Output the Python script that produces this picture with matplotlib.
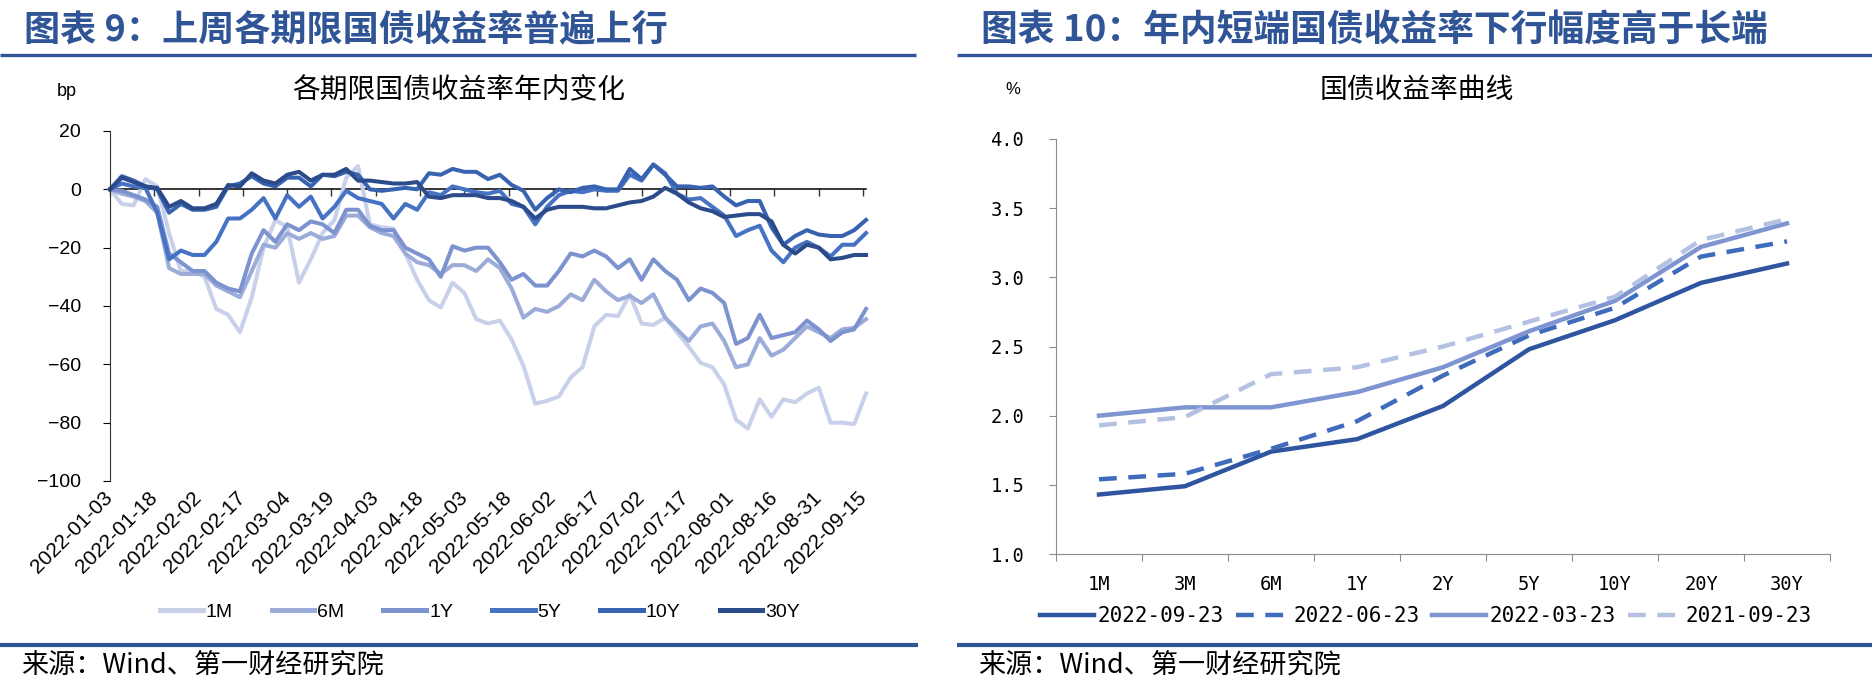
import numpy as np
import pandas as pd
import matplotlib
matplotlib.use("Agg")
import matplotlib.pyplot as plt
import matplotlib.dates as mdates
from matplotlib.lines import Line2D

W, H, DPI = 1872, 685, 100
CJK = ["Noto Sans CJK SC", "DejaVu Sans"]
LAT = ["Liberation Sans", "DejaVu Sans"]
MONO = ["DejaVu Sans Mono"]
BLUE = "#2f5597"

# ---- left: change since 2022-01-03 (bp), read every 4 days ----
DATES = pd.date_range("2022-01-03", "2022-09-16", freq="4D")
TICK_DATES = pd.date_range("2022-01-03", "2022-09-15", freq="15D")
Y1M = [0, -5, -5.5, 3.5, 1, -15, -28, -28, -30, -41, -43, -49, -37, -20, -10.5, -13,
       -32, -24, -15, -10.5, 4, 8, -12, -13, -13.5, -22, -31, -38, -40.5, -32, -35.5,
       -44.5, -46, -45, -51.5, -60.5, -73.5, -72.5, -71, -64.5, -61, -47, -43, -43.5,
       -36, -46, -46.5, -44, -49, -54, -59.5, -61, -67, -79, -82, -72, -78, -72, -73,
       -70, -68, -80, -80, -80.5, -70]
Y6M = [0, -1.5, -2.5, -4, -8, -27, -29, -29, -29, -33, -35, -37, -28, -19, -20, -15,
       -17, -15, -17, -16, -9, -9, -13, -15, -16, -22, -25, -26, -29, -26, -26, -28,
       -24, -27, -34, -44, -41, -42, -40, -36, -38, -31, -35, -38, -36.5, -39, -36,
       -44, -48, -52, -47, -46, -52, -61, -60, -51, -57, -55, -51, -47, -49, -51, -48,
       -47.5, -44.5]
Y1Y = [0, -0.5, -2, -3.5, -6, -22, -25, -28, -28, -32, -34, -35, -22, -14, -18, -12,
       -14, -11, -12, -15, -7, -7, -12.5, -14, -14, -20, -22, -24, -30, -19.5, -21, -20,
       -20, -25, -31, -29, -33, -33, -28, -22, -23, -21, -23, -27, -24, -31, -24, -28,
       -31, -38, -34, -35.5, -39, -53, -51, -43, -51, -50, -49, -45, -48, -52, -49, -48,
       -41]
Y5Y = [0, 2, 1, 0.5, -8, -24, -21, -22.5, -22.5, -18, -10, -10, -7, -3, -10, -2, -6,
       -2.5, -10, -6, -0.5, -3, -4, -5, -10, -5, -7, -1, -2, 1, 0, -1, -1.5, -0.5, -5,
       -6, -12, -6, -2, -0.5, -1, 0, -0.5, -0.5, 5, 3, 8.5, 5.5, -1.5, -3.5, -3, -6, -9,
       -16, -14, -12.5, -21, -25, -20, -18, -20, -23, -19, -19, -15]
Y10Y = [0, 4.5, 3, 1, 0, -8, -5, -7, -7, -6, 1, 2, 4.5, 2, 1, 4, 4, 1, 5, 4.5, 6, 5, 0,
        -0.5, 0, 0.5, 0, 5.5, 5, 7, 6, 6, 3.5, 5, 1.5, -0.5, -7, -3, 0, -1, 0.5, 1, 0, 0,
        7, 3.5, 8.5, 5, 1, 1, 0.5, 1, -2.5, -5.5, -4, -4, -13, -19, -16, -14, -15.5, -16,
        -16, -14, -10.5]
Y30Y = [0, 4, 2.5, 1, 0.5, -6, -4, -6.5, -6.5, -5, 1.5, 1, 5.5, 3, 2, 5, 6, 3, 5, 5, 7,
        3, 3, 2.5, 2, 2, 2.5, -2.5, -3, -2, -2, -2, -3, -3, -4, -6, -10, -7, -6, -6, -6,
        -6.5, -6.5, -5.5, -4.5, -4, -2.5, 0.5, -1.5, -4.5, -6.5, -7.5, -9.5, -9, -8.5,
        -8.5, -11, -19, -22, -19, -20, -24, -23.5, -22.5, -22.5]
TENORS = ["1M", "6M", "1Y", "5Y", "10Y", "30Y"]
TENOR_COLORS = ["#c8d0ea", "#9cacd9", "#7d93d0", "#4672c3", "#3863b0", "#2b4b8b"]

# ---- right: yield curves (%) ----
MATURITIES = ["1M", "3M", "6M", "1Y", "2Y", "5Y", "10Y", "20Y", "30Y"]
C_20220923 = [1.43, 1.49, 1.74, 1.83, 2.07, 2.48, 2.69, 2.96, 3.10]
C_20220623 = [1.54, 1.58, 1.76, 1.96, 2.29, 2.58, 2.78, 3.15, 3.26]
C_20220323 = [2.00, 2.06, 2.06, 2.17, 2.35, 2.61, 2.83, 3.22, 3.39]
C_20210923 = [1.93, 1.99, 2.30, 2.35, 2.50, 2.68, 2.86, 3.27, 3.42]


def fx(x): return x / W
def fy(y): return 1 - y / H


def rule(fig, x0, x1, y, lw):
    fig.add_artist(Line2D([fx(x0), fx(x1)], [fy(y), fy(y)], transform=fig.transFigure,
                          color=BLUE, lw=lw, solid_capstyle="butt"))


fig = plt.figure(figsize=(W / DPI, H / DPI), dpi=DPI)

# headers, rules, sources
fig.text(fx(24), fy(30), "图表 9：上周各期限国债收益率普遍上行", family=CJK, fontsize=26,
         fontweight="bold", color=BLUE, ha="left", va="center")
fig.text(fx(981), fy(30), "图表 10：年内短端国债收益率下行幅度高于长端", family=CJK, fontsize=26.5,
         fontweight="bold", color=BLUE, ha="left", va="center")
rule(fig, 0, 916, 54.5, 2.4)
rule(fig, 957, 1872, 54.5, 2.4)
rule(fig, 0, 918, 645, 3.0)
rule(fig, 957, 1872, 645, 3.0)
fig.text(fx(21), fy(665), "来源：Wind、第一财经研究院", family=CJK, fontsize=19.5, ha="left", va="center")
fig.text(fx(978), fy(665), "来源：Wind、第一财经研究院", family=CJK, fontsize=19.5, ha="left", va="center")

# ================= left chart =================
fig.text(fx(459), fy(90), "各期限国债收益率年内变化", family=CJK, fontsize=20, ha="center", va="center")
fig.text(fx(67), fy(91), "bp", family=LAT, fontsize=13, ha="center", va="center")

axL = fig.add_axes([fx(110), fy(481), (866 - 110) / W, (481 - 131) / H])
for vals, name, col in zip([Y1M, Y6M, Y1Y, Y5Y, Y10Y, Y30Y], TENORS, TENOR_COLORS):
    axL.plot(DATES, vals, color=col, lw=2.9, label=name, clip_on=False, solid_joinstyle="round")
axL.set_xlim(DATES[0], DATES[-1])
axL.set_ylim(-100, 20)
axL.set_yticks(range(-100, 21, 20))
for s in ["top", "right", "bottom"]:
    axL.spines[s].set_visible(False)
axL.spines["left"].set_color("#333333")
axL.tick_params(axis="y", direction="out", length=5, pad=16, labelsize=14, colors="black")
axL.set_xticks(TICK_DATES, [d.strftime("%Y-%m-%d") for d in TICK_DATES])
axL.tick_params(axis="x", length=0, pad=10, labelsize=15)
for lbl in axL.get_xticklabels() + axL.get_yticklabels():
    lbl.set_family(LAT)
for lbl in axL.get_xticklabels():
    lbl.set(rotation=45, ha="right", va="center", rotation_mode="anchor")

zero = axL.secondary_xaxis(100 / 120)
zero.set_xticks(mdates.date2num(TICK_DATES))
zero.tick_params(direction="in", length=5, width=1, colors="#333333", labeltop=False, labelbottom=False)
zero.spines["top"].set_color("black")
zero.spines["top"].set_linewidth(1.1)

legL = axL.legend(ncol=6, loc="center", bbox_to_anchor=(fx(480), fy(612)), bbox_transform=fig.transFigure,
                  frameon=False, prop={"family": LAT, "size": 14}, handlelength=2.2, handletextpad=0.15,
                  columnspacing=2.0)
for ln in legL.get_lines():
    ln.set_linewidth(3.6)

# ================= right chart =================
fig.text(fx(1417), fy(90), "国债收益率曲线", family=CJK, fontsize=20, ha="center", va="center")
fig.text(fx(1013), fy(90), "%", family=LAT, fontsize=12, ha="center", va="center")

axR = fig.add_axes([fx(1056), fy(554), (1830 - 1056) / W, (554 - 139) / H])
xpos = np.arange(len(MATURITIES))
axR.plot(xpos, C_20220923, color="#2f55a0", lw=3.2, label="2022-09-23")
axR.plot(xpos, C_20220623, color="#3f6bbd", lw=3.2, dashes=(4, 2.6), label="2022-06-23")
axR.plot(xpos, C_20220323, color="#7f95d1", lw=3.2, label="2022-03-23")
axR.plot(xpos, C_20210923, color="#b5c1e3", lw=3.2, dashes=(4, 2.6), label="2021-09-23")
axR.set_xlim(-0.5, len(MATURITIES) - 0.5)
axR.set_ylim(1.0, 4.0)
axR.set_yticks(np.arange(1.0, 4.01, 0.5), [f"{v:.1f}" for v in np.arange(1.0, 4.01, 0.5)])
axR.set_xticks(np.arange(-0.5, len(MATURITIES)), [""] * (len(MATURITIES) + 1))
axR.set_xticks(xpos, MATURITIES, minor=True)
for s in ["top", "right"]:
    axR.spines[s].set_visible(False)
for s in ["left", "bottom"]:
    axR.spines[s].set_color("#8c8c8c")
axR.tick_params(axis="y", direction="out", length=5, pad=18, labelsize=13.5, colors="black")
axR.tick_params(axis="y", color="#8c8c8c")
axR.tick_params(axis="x", which="major", direction="out", length=5, color="#8c8c8c")
axR.tick_params(axis="x", which="minor", length=0, pad=15, labelsize=13.5)
for lbl in axR.get_yticklabels() + axR.get_xticklabels(minor=True):
    lbl.set_family(MONO)

legR = axR.legend(ncol=4, loc="center", bbox_to_anchor=(fx(1426), fy(616)), bbox_transform=fig.transFigure,
                  frameon=False, prop={"family": MONO, "size": 15}, handlelength=2.6, handletextpad=0.15,
                  columnspacing=0.6)

fig.savefig("out.png", dpi=DPI, facecolor="white")
